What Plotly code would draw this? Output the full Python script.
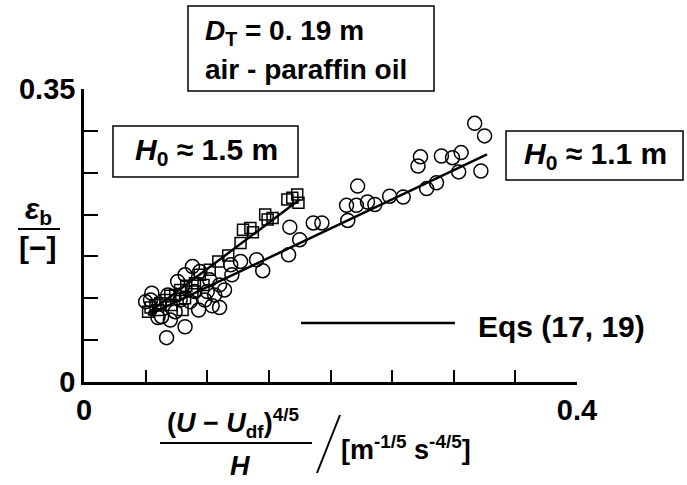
import plotly.graph_objects as go

# ---- data ----
sq_x = [0.173, 0.165, 0.174, 0.169, 0.147, 0.153, 0.149, 0.129, 0.137, 0.135, 0.127, 0.117,
        0.109, 0.102, 0.094, 0.090, 0.083, 0.078, 0.074, 0.070, 0.066, 0.062, 0.058, 0.054,
        0.052, 0.060, 0.071, 0.082, 0.088, 0.080, 0.097]
sq_y = [0.224, 0.218, 0.214, 0.220, 0.200, 0.196, 0.194, 0.182, 0.179, 0.184, 0.166, 0.151,
        0.144, 0.134, 0.128, 0.118, 0.115, 0.110, 0.104, 0.103, 0.098, 0.094, 0.092, 0.089,
        0.084, 0.086, 0.092, 0.100, 0.108, 0.086, 0.116]

ci_x = [0.317, 0.325, 0.273, 0.271, 0.290, 0.299, 0.306, 0.304, 0.322, 0.286, 0.278, 0.259,
        0.248, 0.222, 0.213, 0.221, 0.230, 0.236, 0.214, 0.186, 0.193, 0.167, 0.175, 0.166,
        0.140, 0.145, 0.119, 0.106, 0.110, 0.104, 0.098, 0.088, 0.094, 0.102, 0.076, 0.082,
        0.063, 0.055, 0.082, 0.067, 0.054, 0.060, 0.070, 0.074, 0.086, 0.093, 0.100, 0.110,
        0.114, 0.120, 0.068, 0.078, 0.090, 0.050, 0.127]
ci_y = [0.309, 0.294, 0.269, 0.258, 0.270, 0.268, 0.274, 0.251, 0.252, 0.238, 0.231, 0.221,
        0.222, 0.234, 0.211, 0.211, 0.215, 0.212, 0.193, 0.190, 0.190, 0.185, 0.170, 0.152,
        0.146, 0.133, 0.140, 0.104, 0.089, 0.091, 0.098, 0.138, 0.132, 0.122, 0.120, 0.128,
        0.078, 0.106, 0.066, 0.053, 0.098, 0.077, 0.074, 0.084, 0.096, 0.086, 0.108, 0.116,
        0.110, 0.128, 0.104, 0.098, 0.108, 0.096, 0.144]

line15_x = [0.052, 0.175]
line15_y = [0.082, 0.218]
line11_x = [0.052, 0.327]
line11_y = [0.080, 0.272]

x_ticks = [0, 0.05, 0.10, 0.15, 0.20, 0.25, 0.30, 0.35, 0.40]
x_ticktext = ["<b>0</b>", "", "", "", "", "", "", "", "<b>0.4</b>"]
y_ticks = [0, 0.05, 0.10, 0.15, 0.20, 0.25, 0.30, 0.35]
y_ticktext = ["<b>0</b>", "", "", "", "", "", "", "<b>0.35</b>"]

# ---- layout geometry (pixels) ----
W, H = 687, 485
L, R, T, B = 84, 577, 89, 382


def px(xp):
    return (xp - L) / (R - L)


def py(yp):
    return (B - yp) / (B - T)


FONT = "Liberation Sans, Arial, sans-serif"
fig = go.Figure()

fig.add_trace(go.Scatter(x=line15_x, y=line15_y, mode="lines",
                         line=dict(color="black", width=2.5), showlegend=False))
fig.add_trace(go.Scatter(x=line11_x, y=line11_y, mode="lines",
                         line=dict(color="black", width=2.5), showlegend=False))
fig.add_trace(go.Scatter(x=ci_x, y=ci_y, mode="markers",
                         marker=dict(symbol="circle-open", size=14, color="black",
                                     line=dict(width=1.5)), showlegend=False))
fig.add_trace(go.Scatter(x=sq_x, y=sq_y, mode="markers",
                         marker=dict(symbol="square-open", size=11, color="black",
                                     line=dict(width=1.5)), showlegend=False))

fig.update_layout(
    width=W, height=H,
    margin=dict(l=L, r=W - R, t=T, b=H - B),
    paper_bgcolor="white", plot_bgcolor="white",
    font=dict(family=FONT, size=22, color="black"),
    xaxis=dict(range=[0, 0.4], tickvals=x_ticks, ticktext=x_ticktext,
               showline=True, linecolor="black", linewidth=2.5, mirror=False,
               ticks="inside", ticklen=12, tickwidth=2, tickcolor="black",
               showgrid=False, zeroline=False, tickfont=dict(size=29)),
    yaxis=dict(range=[0, 0.35], tickvals=y_ticks, ticktext=y_ticktext,
               showline=True, linecolor="black", linewidth=2.5, mirror=False,
               ticks="inside", ticklen=14, tickwidth=2, tickcolor="black",
               showgrid=False, zeroline=False, tickfont=dict(size=29)),
)

shapes = []
annos = []


def box(x0, y0, x1, y1):
    shapes.append(dict(type="rect", xref="paper", yref="paper",
                       x0=px(x0), x1=px(x1), y0=py(y1), y1=py(y0),
                       line=dict(color="black", width=1.5), fillcolor="white"))


def text(xp, yp, s, size=22, xanchor="center"):
    annos.append(dict(xref="paper", yref="paper", x=px(xp), y=py(yp), text="<b>" + s + "</b>",
                      showarrow=False, xanchor=xanchor, yanchor="middle",
                      font=dict(size=size, color="black", family=FONT)))


# boxes
box(188, 6, 434, 91)
text(203, 32, "<i>D</i><sub>T</sub> = 0. 19 m", 28, xanchor="left")
text(203, 69, "air - paraffin oil", 28, xanchor="left")
box(113, 126, 298, 177)
text(206, 151, "<i>H</i><sub>0</sub> ≈ 1.5 m", 30)
box(506, 131, 683, 180)
text(595, 155, "<i>H</i><sub>0</sub> ≈ 1.1 m", 30)

# legend line
shapes.append(dict(type="line", xref="paper", yref="paper",
                   x0=px(301), x1=px(455), y0=py(323), y1=py(323),
                   line=dict(color="black", width=2.5)))
text(476, 326, "Eqs (17, 19)", 30, xanchor="left")

# y title
text(38, 210, "<i>ε</i><sub>b</sub>", 30)
shapes.append(dict(type="line", xref="paper", yref="paper",
                   x0=px(18), x1=px(60), y0=py(229), y1=py(229),
                   line=dict(color="black", width=2)))
text(38, 247, "[−]", 30)

# x title
text(233, 423, "(<i>U</i> − <i>U</i><sub>df</sub>)<sup>4/5</sup>", 27)
shapes.append(dict(type="line", xref="paper", yref="paper",
                   x0=px(160), x1=px(312), y0=py(443), y1=py(443),
                   line=dict(color="black", width=2)))
text(240, 466, "<i>H</i>", 27)
shapes.append(dict(type="line", xref="paper", yref="paper",
                   x0=px(317), x1=px(340), y0=py(473), y1=py(415),
                   line=dict(color="black", width=2)))
text(339, 448, "[m<sup>-1/5</sup> s<sup>-4/5</sup>]", 27, xanchor="left")

fig.update_layout(shapes=shapes, annotations=annos)
fig.write_html("out.html")
